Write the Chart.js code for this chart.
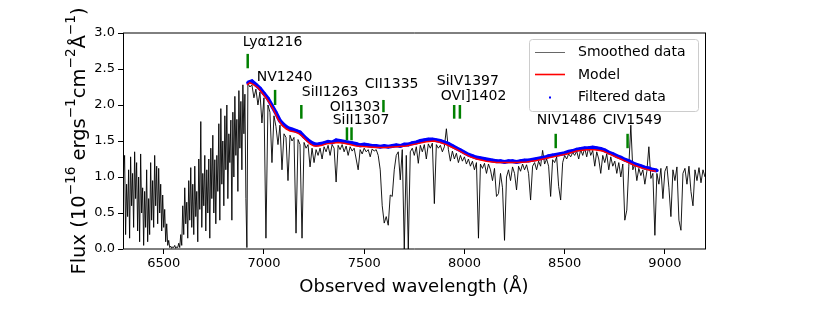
<!DOCTYPE html>
<html>
<head>
<meta charset="utf-8">
<script src="https://cdn.jsdelivr.net/npm/chart.js@4.4.0/dist/chart.umd.min.js"></script>
<style>
    html, body { margin: 0; padding: 0; background: #ffffff; }
    canvas { display: block; }
</style>
</head>
<body>
<canvas id="specChart" width="830" height="332"></canvas>
<script>
// smoothed spectrum, blue side (Lyman forest), 5 A grid
const forestStart = 6295, forestStep = 5;
const forestFlux = [
    0.35, 1.05, 1.30, 0.20, 0.90, 0.45, 1.10, 0.15, 1.28, 0.60,
    1.05, 0.30, 1.35, 0.70, 1.20, 0.25, 1.00, 0.10, 1.32, 0.50,
    0.85, 0.05, 0.80, 0.30, 1.10, 0.10, 0.70, 0.20, 1.20, 0.40,
    0.95, 0.30, 1.30, 0.60, 1.15, 0.35, 1.12, 0.50, 0.90, 0.25,
    0.75, 0.30, 0.55, 0.10, 0.35, 0.05, 0.12, 0.02, 0.04, 0.01,
    0.03, 0.02, 0.05, 0.01, 0.03, 0.02, 0.08, 0.02, 0.20, 0.05,
    0.60, 0.20, 0.85, 0.35, 0.65, 0.15, 0.95, 0.40, 1.13, 0.30,
    0.90, 0.20, 1.15, 0.45, 0.80, 0.10, 1.25, 0.55, 1.77, 0.30,
    1.05, 0.60, 1.30, 0.25, 1.10, 0.50, 1.25, 0.15, 1.40, 0.70,
    1.58, 0.50, 1.24, 0.35, 1.30, 0.80, 1.74, 0.40, 1.95, 0.90,
    1.50, 0.60, 1.85, 1.10, 2.00, 0.70, 1.60, 1.20, 1.79, 0.40,
    1.90, 1.00, 2.12, 1.30, 1.80, 0.80, 2.20, 1.40, 2.05, 1.10,
    2.28, 1.60, 2.15, 0.70, 0.02
];

// smoothed spectrum, red side, 10 A grid
const redStart = 6920, redStep = 10;
const redFlux = [
    2.30, 2.25, 2.28, 2.10, 2.22, 2.00, 2.18, 1.75, 2.10, 0.15,
    2.00, 1.90, 1.20, 1.85, 1.70, 1.45, 1.72, 1.10, 1.60, 1.55,
    0.95, 1.58, 1.50, 1.55, 0.22, 1.52, 1.45, 0.15, 1.48, 1.40,
    1.45, 1.14, 1.40, 1.20, 1.38, 1.30, 1.40, 1.25, 1.42, 1.35,
    1.44, 1.30, 1.45, 1.40, 0.93, 1.44, 1.38, 1.45, 1.35, 1.43,
    1.30, 1.42, 1.36, 1.40, 1.25, 1.10, 1.38, 1.32, 1.40, 1.35,
    1.38, 1.28, 1.39, 1.36, 1.38, 1.30, 1.10, 0.60, 0.36, 0.45,
    0.33, 0.75, 0.73, 1.10, 1.30, 1.35, 0.96, 1.38, 0.00, 1.30,
    0.00, 1.35, 1.40, 1.30, 1.42, 1.19, 1.44, 1.35, 1.45, 1.25,
    1.46, 1.40, 1.47, 0.63, 1.45, 1.40, 1.44, 1.35, 1.42, 1.67,
    1.38, 1.22, 1.36, 1.25, 1.33, 1.20, 1.30, 1.22, 1.28, 1.18,
    1.25, 1.15, 1.22, 1.10, 1.20, 0.15, 1.18, 1.12, 1.19, 1.05,
    1.18, 1.10, 0.95, 1.12, 0.73, 0.77, 1.05, 0.85, 0.12, 1.00,
    1.10, 0.95, 1.14, 1.05, 0.82, 1.15, 1.08, 1.18, 1.10, 1.17,
    1.05, 0.68, 1.15, 1.20, 1.10, 1.22, 1.15, 1.37, 1.18, 1.25,
    1.15, 0.73, 1.24, 1.20, 1.28, 0.87, 0.68, 1.20, 1.30, 1.25,
    1.32, 1.28, 1.34, 1.30, 1.36, 1.25, 1.38, 1.30, 1.40, 1.28,
    1.42, 1.30, 1.37, 1.15, 1.35, 1.25, 1.05, 1.30, 1.20, 1.32,
    1.10, 1.28, 1.15, 1.22, 1.05, 1.20, 1.00, 1.18, 0.40, 0.54,
    1.15, 1.72, 1.10, 1.18, 0.95, 1.12, 1.02, 1.10, 0.90, 1.08,
    1.42, 0.98, 1.05, 0.19, 1.05, 0.90, 1.12, 0.70, 1.08, 1.15,
    0.85, 0.45, 1.10, 0.95, 1.14, 0.40, 0.26, 1.05, 1.12, 0.90,
    1.15, 0.80, 0.60, 1.10, 0.95, 1.13, 0.92, 1.10, 1.00
];

// continuum + emission line model
const modelWave = [
    6915, 6930, 6950, 6970, 6990, 7010, 7030, 7050, 7070, 7090,
    7110, 7130, 7150, 7170, 7190, 7210, 7230, 7250, 7270, 7290,
    7310, 7340, 7370, 7400, 7430, 7460, 7510, 7560, 7610, 7660,
    7710, 7760, 7810, 7850, 7880, 7910, 7940, 7970, 8000, 8030,
    8060, 8110, 8160, 8210, 8260, 8310, 8360, 8410, 8460, 8510,
    8560, 8610, 8650, 8690, 8730, 8770, 8810, 8850, 8890, 8930,
    8955
];
const modelFlux = [
    2.28, 2.31, 2.28, 2.24, 2.17, 2.10, 2.02, 1.92, 1.80, 1.72,
    1.67, 1.64, 1.63, 1.61, 1.57, 1.51, 1.46, 1.43, 1.43, 1.44,
    1.46, 1.47, 1.48, 1.47, 1.45, 1.43, 1.42, 1.41, 1.41, 1.42,
    1.43, 1.46, 1.49, 1.50, 1.48, 1.45, 1.41, 1.37, 1.32, 1.28,
    1.25, 1.22, 1.20, 1.20, 1.20, 1.21, 1.23, 1.26, 1.29, 1.32,
    1.36, 1.38, 1.38, 1.36, 1.31, 1.26, 1.21, 1.16, 1.12, 1.09,
    1.08
];

// filtered (fitted) pixels, 20 A grid
const filteredStart = 6920, filteredStep = 20;
const filteredFlux = [
    2.31, 2.33, 2.28, 2.23, 2.16, 2.09, 1.99, 1.89, 1.78, 1.72,
    1.68, 1.66, 1.64, 1.62, 1.56, 1.51, 1.47, 1.45, 1.46, 1.47,
    1.49, 1.48, 1.51, 1.50, 1.49, 1.48, 1.47, 1.46, 1.44, 1.45,
    1.44, 1.43, 1.43, 1.42, 1.43, 1.42, 1.43, 1.44, 1.43, 1.45,
    1.45, 1.47, 1.48, 1.50, 1.51, 1.52, 1.52, 1.51, 1.50, 1.48,
    1.46, 1.43, 1.40, 1.37, 1.34, 1.31, 1.29, 1.27, 1.26, 1.25,
    1.24, 1.23, 1.22, 1.22, 1.21, 1.22, 1.22, 1.21, 1.22, 1.23,
    1.23, 1.24, 1.25, 1.26, 1.27, 1.29, 1.30, 1.31, 1.32, 1.33,
    1.35, 1.36, 1.38, 1.39, 1.40, 1.40, 1.41, 1.40, 1.39, 1.37,
    1.34, 1.32, 1.29, 1.27, 1.24, 1.22, 1.19, 1.17, 1.15, 1.13,
    1.12, 1.10, 1.09
];

// emission lines (rest frame) and redshift
const lineNames = ["Ly\u03b11216", "NV1240", "SiII1263", "OI1303", "SiII1307",
                   "CII1335", "SiIV1397", "OVI]1402", "NIV1486", "CIV1549"];
const lineRest = [1216, 1240, 1263, 1303, 1307, 1335, 1397, 1402, 1486, 1549];
const onePlusZ = 5.69;

const xTicks = [6500, 7000, 7500, 8000, 8500, 9000];
const yTicks = [0, 0.5, 1, 1.5, 2, 2.5, 3];

// marker bar extent (flux) and label anchor (wavelength, flux) per line
const markSpan = [[2.51, 2.71], [2.00, 2.21], [1.81, 2.00], [1.51, 1.69], [1.51, 1.69],
                  [1.90, 2.07], [1.81, 2.00], [1.81, 2.00], [1.40, 1.60], [1.40, 1.60]];
const labelAt = [[6894, 2.875], [6964, 2.39], [7189, 2.18], [7328, 1.97], [7343, 1.78],
                 [7503, 2.28], [7862, 2.33], [7882, 2.125], [8361, 1.78], [8690, 1.78]];

const FONT = '"DejaVu Sans", "Liberation Sans", sans-serif';

const smoothedPoints = forestFlux.map(function (f, i) { return { x: forestStart + i * forestStep, y: f }; })
    .concat(redFlux.map(function (f, i) { return { x: redStart + i * redStep, y: f }; }));
const modelPoints = modelWave.map(function (w, i) { return { x: w, y: modelFlux[i] }; });
const filteredPoints = filteredFlux.map(function (f, i) { return { x: filteredStart + i * filteredStep, y: f }; });

const decorPlugin = {
    id: "decor",
    afterDatasetsDraw: function (chart) {
        const ctx = chart.ctx;
        const x = chart.scales.x, y = chart.scales.y;

        // line markers
        ctx.save();
        ctx.strokeStyle = "#008000";
        ctx.lineWidth = 2.5;
        lineRest.forEach(function (rest, i) {
            const px = x.getPixelForValue(rest * onePlusZ);
            ctx.beginPath();
            ctx.moveTo(px, y.getPixelForValue(markSpan[i][0]));
            ctx.lineTo(px, y.getPixelForValue(markSpan[i][1]));
            ctx.stroke();
        });
        ctx.fillStyle = "#000";
        ctx.font = "14px " + FONT;
        ctx.textAlign = "left";
        ctx.textBaseline = "middle";
        lineNames.forEach(function (name, i) {
            ctx.fillText(name, x.getPixelForValue(labelAt[i][0]), y.getPixelForValue(labelAt[i][1]));
        });
        ctx.restore();
    },
    afterDraw: function (chart) {
        const ctx = chart.ctx;
        const a = chart.chartArea;

        // spines
        ctx.save();
        ctx.lineWidth = 1;
        ctx.strokeStyle = "#000";
        ctx.beginPath();
        ctx.moveTo(a.left + 0.5, a.top); ctx.lineTo(a.left + 0.5, a.bottom);
        ctx.moveTo(a.right + 0.5, a.top); ctx.lineTo(a.right + 0.5, a.bottom);
        ctx.moveTo(a.left, a.top); ctx.lineTo(a.right + 1, a.top);
        ctx.moveTo(a.left, a.bottom); ctx.lineTo(a.right + 1, a.bottom);
        ctx.stroke();

        // legend
        ctx.beginPath();
        ctx.roundRect(529.5, 39.5, 169, 72, 3);
        ctx.fillStyle = "rgba(255,255,255,0.8)";
        ctx.fill();
        ctx.strokeStyle = "#cccccc";
        ctx.stroke();

        ctx.strokeStyle = "#000";
        ctx.lineWidth = 0.6;
        ctx.beginPath(); ctx.moveTo(535, 52.5); ctx.lineTo(565, 52.5); ctx.stroke();
        ctx.strokeStyle = "#ff0000";
        ctx.lineWidth = 1.6;
        ctx.beginPath(); ctx.moveTo(535, 74.5); ctx.lineTo(565, 74.5); ctx.stroke();
        ctx.fillStyle = "#0000ff";
        ctx.fillRect(549, 96.5, 2, 2);

        ctx.fillStyle = "#000";
        ctx.font = "14px " + FONT;
        ctx.textAlign = "left";
        ctx.textBaseline = "middle";
        ctx.fillText("Smoothed data", 578, 52);
        ctx.fillText("Model", 578, 75);
        ctx.fillText("Filtered data", 578, 97);

        // x title
        ctx.font = "18px " + FONT;
        ctx.textAlign = "center";
        ctx.fillText("Observed wavelength (\u00c5)", (a.left + a.right) / 2, 287);

        // y title with superscripts
        const parts = [["Flux (10", 0], ["\u221216", 1], [" ergs", 0], ["\u22121", 1],
                       ["cm", 0], ["\u22122", 1], ["\u00c5", 0], ["\u22121", 1], [")", 0]];
        const big = "19.5px " + FONT, small = "13.6px " + FONT;
        let total = 0;
        parts.forEach(function (p) { ctx.font = p[1] ? small : big; total += ctx.measureText(p[0]).width; });
        ctx.translate(85, (a.top + a.bottom) / 2);
        ctx.rotate(-Math.PI / 2);
        ctx.textAlign = "left";
        ctx.textBaseline = "alphabetic";
        let pos = -total / 2;
        parts.forEach(function (p) {
            ctx.font = p[1] ? small : big;
            ctx.fillText(p[0], pos, p[1] ? -10 : 0);
            pos += ctx.measureText(p[0]).width;
        });
        ctx.restore();
    }
};

new Chart(document.getElementById("specChart"), {
    type: "scatter",
    data: {
        datasets: [{
            label: "Model",
            data: modelPoints,
            showLine: true,
            borderColor: "#ff0000",
            borderWidth: 1.5,
            pointRadius: 0,
            order: 0
        }, {
            label: "Filtered data",
            data: filteredPoints,
            showLine: true,
            borderColor: "#0000ff",
            borderWidth: 4,
            pointRadius: 1.8,
            pointBorderWidth: 0,
            backgroundColor: "#0000ff",
            order: 1
        }, {
            label: "Smoothed data",
            data: smoothedPoints,
            showLine: true,
            borderColor: "#000000",
            borderWidth: 0.9,
            pointRadius: 0,
            order: 2
        }]
    },
    options: {
        responsive: false,
        animation: false,
        layout: {
            padding: { top: 33, right: 125, left: 0, bottom: 0 }
        },
        plugins: {
            legend: { display: false },
            tooltip: { enabled: false }
        },
        scales: {
            x: {
                type: "linear",
                min: 6297,
                max: 9200,
                afterBuildTicks: function (scale) {
                    scale.ticks = xTicks.map(function (v) { return { value: v }; });
                },
                afterFit: function (scale) { scale.height = 83; },
                ticks: {
                    color: "#000",
                    font: { family: FONT, size: 13 },
                    padding: 2,
                    maxRotation: 0,
                    autoSkip: false,
                    callback: function (value) { return String(value); }
                },
                grid: {
                    drawOnChartArea: false,
                    drawTicks: true,
                    tickLength: 5,
                    tickColor: "#000"
                },
                border: { display: false }
            },
            y: {
                min: 0,
                max: 3,
                afterBuildTicks: function (scale) {
                    scale.ticks = yTicks.map(function (v) { return { value: v }; });
                },
                afterFit: function (scale) { scale.width = 123; },
                ticks: {
                    color: "#000",
                    font: { family: FONT, size: 13 },
                    padding: 3,
                    autoSkip: false,
                    callback: function (value) { return value.toFixed(1); }
                },
                grid: {
                    drawOnChartArea: false,
                    drawTicks: true,
                    tickLength: 5,
                    tickColor: "#000"
                },
                border: { display: false }
            }
        }
    },
    plugins: [decorPlugin]
});
</script>
</body>
</html>
